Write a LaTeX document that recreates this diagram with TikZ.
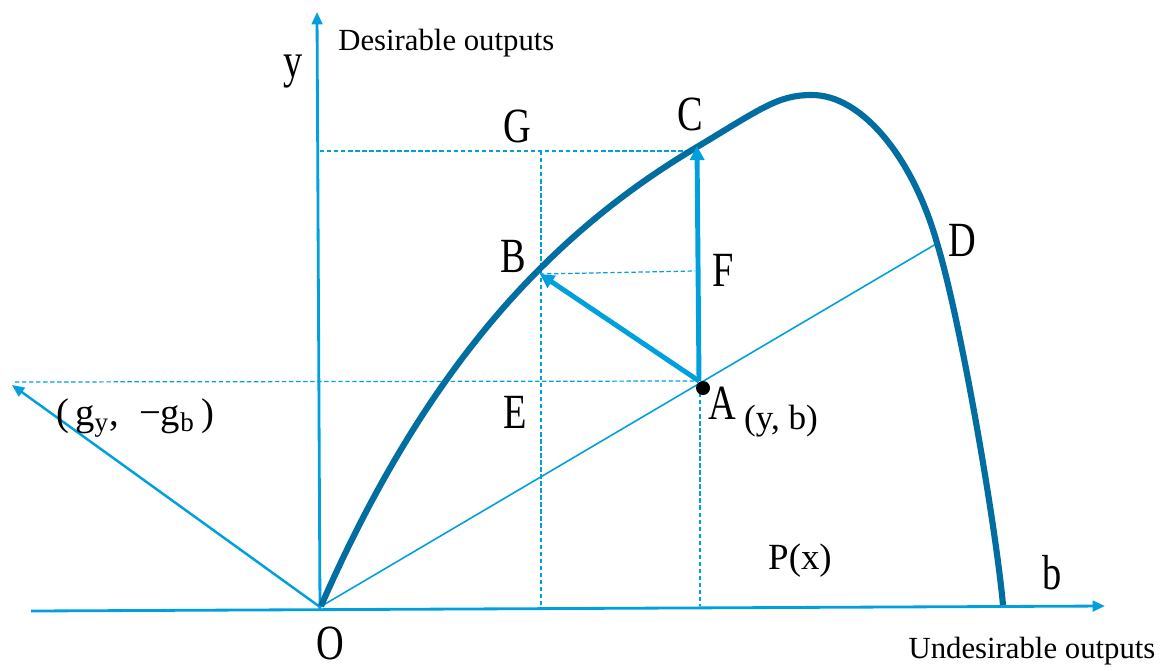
\documentclass[tikz,border=0pt]{standalone}
\usepackage{fontspec}
\setmainfont{Liberation Serif}
\usepackage{graphicx}
\usepackage{tikz}
\usetikzlibrary{arrows.meta, calc}
\definecolor{ejeazul}{RGB}{0,160,222}
\definecolor{frontera}{RGB}{0,110,160}
\tikzset{
  eje/.style={ejeazul, line width=1.6pt, -{Triangle[length=7pt,width=6pt]}},
  guia/.style={ejeazul, line width=0.7pt, dash pattern=on 2.5pt off 1.5pt},
  vector/.style={ejeazul, line width=2.8pt, -{Triangle[length=8pt,width=8pt]}},
  letra/.style={font=\fontsize{28}{28}\selectfont, inner sep=0pt},
  rotulo/.style={font=\fontsize{17.5}{18}\selectfont, inner sep=0pt}
}
\newcommand{\estrecha}[1]{\scalebox{0.78}[1]{#1}}

\begin{document}
\begin{tikzpicture}[x=0.02cm, y=-0.02cm]
    \useasboundingbox (0,0) rectangle (1165,670);

    % 1. Puntos principales
    \coordinate (O) at (320,607);
    \coordinate (A) at (699,381);
    \coordinate (B) at (540,274);
    \coordinate (C) at (697,146);
    \coordinate (D) at (936,244);
    \coordinate (Gc) at (541,151);
    \coordinate (Fc) at (695,271);
    \coordinate (Yc) at (320,151);
    \coordinate (Xmin) at (31,611);
    \coordinate (Xmax) at (1105,606);
    \coordinate (Ymin) at (320,610);
    \coordinate (Ymax) at (317,12);
    \coordinate (Gdir) at (12,385);
    \coordinate (Hizq) at (15,382);
    \coordinate (Cima) at (812,95);
    \coordinate (Fin) at (1003,605);

    % 2. Lineas guia (discontinuas)
    \draw[guia] (Yc) -- (690,151);
    \draw[guia] (Gc) -- (541,608);
    \draw[guia] (B) -- (Fc);
    \draw[guia] (Hizq) -- (A);
    \draw[guia] (700,386) -- (700,606);

    % 3. Ejes
    \draw[eje] (Xmin) -- (Xmax);
    \draw[eje] (Ymin) -- (Ymax);
    \draw[ejeazul, line width=1.4pt, -{Triangle[length=7pt,width=6pt]}] (O) -- (Gdir);
    \draw[ejeazul, line width=0.9pt] (O) -- (D);

    % 4. Frontera de produccion
    \draw[frontera, line width=3.5pt]
        (321,606) .. controls (420,380) and (540,240) .. (697,147)
        .. controls (762,108) and (778,95) .. (Cima)
        .. controls (862,95) and (913,158) .. (937,243)
        .. controls (960,318) and (995,520) .. (Fin);

    % 5. Vectores de direccion
    \draw[vector] (A) -- (C);
    \draw[vector] (A) -- (B);
    \fill[black] (703,388) circle (7);

    % 6. Etiquetas
    \node[letra] (ly) at (293,72) {\estrecha{y}};
    \node[rotulo, anchor=west] (ldes) at (338,43) {Desirable outputs};
    \node[letra] (lG) at (517,126) {\estrecha{G}};
    \node[letra] (lC) at (690,114) {\estrecha{C}};
    \node[letra] (lB) at (513,256) {\estrecha{B}};
    \node[letra] (lF) at (723,270) {\estrecha{F}};
    \node[letra] (lD) at (962,240) {\estrecha{D}};
    \node[letra] (lE) at (515,412) {\estrecha{E}};
    \node[letra] (lA) at (722,403) {\estrecha{A}};
    \node[font=\fontsize{20}{20}\selectfont, inner sep=0pt] (lyb) at (781,421) {(y, b)};
    \node[font=\fontsize{21}{21}\selectfont, inner sep=0pt] (lP) at (800,561) {P(x)};
    \node[letra] (lb) at (1052,573) {\estrecha{b}};
    \node[letra] (lO) at (330,643) {\estrecha{O}};
    \node[rotulo] (lund) at (1032,651) {Undesirable outputs};
    \node[font=\fontsize{22}{22}\selectfont, inner sep=0pt] (lg) at (135,418)
        {(\,g\textsubscript{y},\; −g\textsubscript{b}\,)};

\end{tikzpicture}
\end{document}
